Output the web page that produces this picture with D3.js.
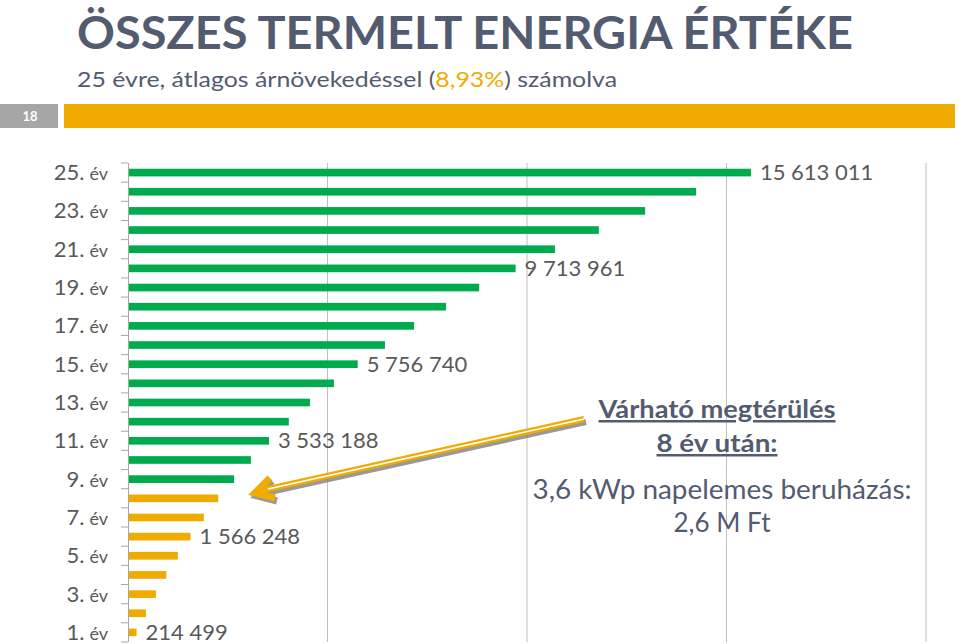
<!DOCTYPE html>
<html><head><meta charset="utf-8">
<script src="https://cdn.jsdelivr.net/npm/d3@7"></script>
<style>body{margin:0;background:#fff;}svg{display:block;}</style>
</head><body>
<svg id="c" width="959" height="644"></svg>
<script>
const years = d3.range(1, 26);
const values = [214499, 450000, 700000, 960000, 1250000, 1566248, 1900000, 2260000, 2660000, 3080000,
  3533188, 4030000, 4560000, 5160000, 5756740, 6440000, 7170000, 7970000, 8800000, 9713961,
  10700000, 11800000, 12960000, 14240000, 15613011];
const labelYears = [1, 6, 11, 15, 20, 25];
const axisLabelYears = [1, 3, 5, 7, 9, 11, 13, 15, 17, 19, 21, 23, 25];
const gridTicks = [5000000, 10000000, 15000000, 20000000];
const paybackYears = 8;
const title = "ÖSSZES TERMELT ENERGIA ÉRTÉKE";
const subtitleParts = ["25 évre, átlagos árnövekedéssel (", "8,93%", ") számolva"];
const noteLines = ["Várható megtérülés", "8 év után:", "3,6 kWp napelemes beruházás:", "2,6 M Ft"];

const green = "#00AB4E", orange = "#F0AB00", slate = "#535B70", gray = "#595959";
const font = "Lato, 'Open Sans', sans-serif";
const svg = d3.select("#c");

// header
svg.append("text").attr("x", 77).attr("y", 49).attr("fill", slate)
  .attr("font-family", font).attr("font-weight", 700).attr("font-size", 46)
  .attr("textLength", 776).attr("lengthAdjust", "spacingAndGlyphs").text(title);
const st = svg.append("text").attr("x", 77).attr("y", 87).attr("fill", slate)
  .attr("font-family", font).attr("font-size", 22).attr("textLength", 540).attr("lengthAdjust", "spacingAndGlyphs");
st.append("tspan").text(subtitleParts[0]);
st.append("tspan").attr("fill", orange).text(subtitleParts[1]);
st.append("tspan").text(subtitleParts[2]);
svg.append("rect").attr("x", 0).attr("y", 104).attr("width", 58).attr("height", 24).attr("fill", "#A6A6A6");
svg.append("text").attr("x", 30).attr("y", 121).attr("text-anchor", "middle").attr("fill", "#fff")
  .attr("font-family", font).attr("font-weight", 700).attr("font-size", 13).text("18");
svg.append("rect").attr("x", 64).attr("y", 104).attr("width", 891).attr("height", 24).attr("fill", orange);

// scales
const x = d3.scaleLinear().domain([0, 20000000]).range([128, 926]);
const plotTop = 163, plotBottom = 642;
const y = d3.scaleBand().domain(years.slice().reverse()).range([plotTop, plotBottom]).paddingInner(0.6).paddingOuter(0.3);

// gridlines
svg.append("g").selectAll("line").data(gridTicks).join("line")
  .attr("x1", d => x(d)).attr("x2", d => x(d)).attr("y1", plotTop).attr("y2", plotBottom)
  .attr("stroke", "#BFBFBF").attr("stroke-width", 1);

// bars
svg.append("g").selectAll("rect").data(years).join("rect")
  .attr("x", x(0)).attr("y", d => y(d)).attr("height", y.bandwidth())
  .attr("width", d => x(values[d - 1]) - x(0))
  .attr("fill", d => d <= paybackYears ? orange : green);

// axis
svg.append("line").attr("x1", 128.5).attr("x2", 128.5).attr("y1", plotTop).attr("y2", plotBottom).attr("stroke", "#A6A6A6");
const bounds = d3.range(0, years.length + 1).map(i => plotTop + (plotBottom - plotTop) / years.length * i);
svg.append("g").selectAll("line").data(bounds).join("line")
  .attr("x1", 121).attr("x2", 128).attr("y1", d => d).attr("y2", d => d).attr("stroke", "#A6A6A6");

const yl = svg.append("g").selectAll("text").data(axisLabelYears).join("text")
  .attr("x", 108).attr("y", d => y(d) + y.bandwidth() / 2 + 7.5).attr("text-anchor", "end")
  .attr("fill", gray).attr("font-family", font);
yl.append("tspan").attr("font-size", 22).text(d => d + ".");
yl.append("tspan").attr("font-size", 18).attr("dx", 5).text("év");

// data labels
const fmt = v => d3.format(",")(v).replace(/,/g, " ");
svg.append("g").selectAll("text").data(labelYears).join("text")
  .attr("x", d => x(values[d - 1]) + 9).attr("y", d => y(d) + y.bandwidth() / 2 + 7.5)
  .attr("fill", gray).attr("font-family", font).attr("font-size", 22).text(d => fmt(values[d - 1]));

// arrow
const arrow = svg.append("g");
const shaft = [[584, 419], [259, 491]];
const head = [[270, 478], [255, 493], [275, 498]];
const line = d3.line();
arrow.append("path").attr("d", line(shaft)).attr("transform", "translate(2,3)")
  .attr("stroke", "#7F7F7F").attr("stroke-width", 6).attr("fill", "none").attr("opacity", 0.8);
arrow.append("path").attr("d", line(head)).attr("transform", "translate(2,3)")
  .attr("stroke", "#7F7F7F").attr("stroke-width", 7).attr("fill", "none").attr("opacity", 0.8);
arrow.append("path").attr("d", line(shaft)).attr("stroke", orange).attr("stroke-width", 6).attr("fill", "none");
arrow.append("path").attr("d", line(head)).attr("stroke", orange).attr("stroke-width", 7).attr("fill", "none");
arrow.append("path").attr("d", line([[584, 419], [268, 489]])).attr("stroke", "#fff").attr("stroke-width", 1.5).attr("fill", "none");

// note
[[noteLines[0], 418, 237], [noteLines[1], 452, 121]].forEach(([t, yy, w]) => {
  svg.append("text").attr("x", 717).attr("y", yy).attr("text-anchor", "middle").attr("fill", slate)
    .attr("font-family", font).attr("font-weight", 700).attr("font-size", 25)
    .attr("textLength", w).attr("lengthAdjust", "spacingAndGlyphs")
    .attr("text-decoration", "underline").text(t);
});
[[noteLines[2], 499, 379], [noteLines[3], 532, 97]].forEach(([t, yy, w]) => {
  svg.append("text").attr("x", 722).attr("y", yy).attr("text-anchor", "middle").attr("fill", slate)
    .attr("font-family", font).attr("font-size", 26)
    .attr("textLength", w).attr("lengthAdjust", "spacingAndGlyphs").text(t);
});
</script>
</body></html>
